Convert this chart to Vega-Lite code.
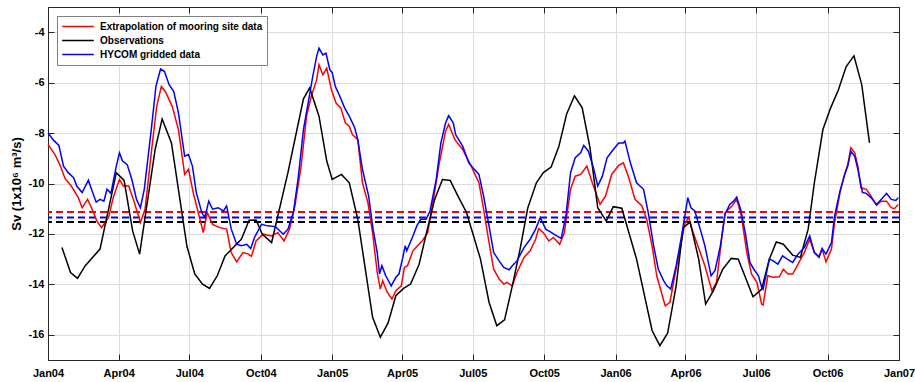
{
  "$schema": "https://vega.github.io/schema/vega-lite/v6.json",
  "width": 851,
  "height": 353,
  "autosize": {"type": "none"},
  "padding": {"left": 48, "top": 7, "right": 16, "bottom": 22},
  "background": "white",
  "config": {
    "font": "Liberation Sans",
    "view": {"stroke": null},
    "axis": {
      "labelFontWeight": "bold",
      "labelFontSize": 11,
      "labelColor": "#000000",
      "domainColor": "#262626",
      "domainWidth": 1,
      "tickColor": "#262626",
      "gridColor": "#dcdcdc",
      "titleFontWeight": "bold",
      "titleFontSize": 13,
      "titleColor": "#000000"
    }
  },
  "datasets": {
    "means": [
      {"c": "#ff0000", "v": -11.13},
      {"c": "#0000ff", "v": -11.35},
      {"c": "#000000", "v": -11.53}
    ]
  },
  "data": {
    "format": {"parse": {"date": "utc:'%Y-%m-%d'"}},
    "values": [
      {"series": "Extrapolation of mooring site data", "date": "2004-01-01", "value": -8.45},
      {"series": "Extrapolation of mooring site data", "date": "2004-01-10", "value": -8.85},
      {"series": "Extrapolation of mooring site data", "date": "2004-01-17", "value": -9.31},
      {"series": "Extrapolation of mooring site data", "date": "2004-01-23", "value": -9.81},
      {"series": "Extrapolation of mooring site data", "date": "2004-01-31", "value": -10.1},
      {"series": "Extrapolation of mooring site data", "date": "2004-02-09", "value": -10.56},
      {"series": "Extrapolation of mooring site data", "date": "2004-02-14", "value": -10.96},
      {"series": "Extrapolation of mooring site data", "date": "2004-02-21", "value": -10.63},
      {"series": "Extrapolation of mooring site data", "date": "2004-02-26", "value": -10.96},
      {"series": "Extrapolation of mooring site data", "date": "2004-03-04", "value": -11.49},
      {"series": "Extrapolation of mooring site data", "date": "2004-03-10", "value": -11.75},
      {"series": "Extrapolation of mooring site data", "date": "2004-03-19", "value": -11.35},
      {"series": "Extrapolation of mooring site data", "date": "2004-03-25", "value": -10.56},
      {"series": "Extrapolation of mooring site data", "date": "2004-04-02", "value": -9.84},
      {"series": "Extrapolation of mooring site data", "date": "2004-04-07", "value": -10.1},
      {"series": "Extrapolation of mooring site data", "date": "2004-04-14", "value": -10.1},
      {"series": "Extrapolation of mooring site data", "date": "2004-04-20", "value": -10.63},
      {"series": "Extrapolation of mooring site data", "date": "2004-04-29", "value": -11.55},
      {"series": "Extrapolation of mooring site data", "date": "2004-05-05", "value": -11.02},
      {"series": "Extrapolation of mooring site data", "date": "2004-05-14", "value": -8.52},
      {"series": "Extrapolation of mooring site data", "date": "2004-05-20", "value": -6.94},
      {"series": "Extrapolation of mooring site data", "date": "2004-05-26", "value": -6.15},
      {"series": "Extrapolation of mooring site data", "date": "2004-05-31", "value": -6.35},
      {"series": "Extrapolation of mooring site data", "date": "2004-06-09", "value": -6.94},
      {"series": "Extrapolation of mooring site data", "date": "2004-06-17", "value": -7.86},
      {"series": "Extrapolation of mooring site data", "date": "2004-06-25", "value": -9.64},
      {"series": "Extrapolation of mooring site data", "date": "2004-06-30", "value": -9.44},
      {"series": "Extrapolation of mooring site data", "date": "2004-07-06", "value": -10.36},
      {"series": "Extrapolation of mooring site data", "date": "2004-07-12", "value": -11.09},
      {"series": "Extrapolation of mooring site data", "date": "2004-07-19", "value": -11.95},
      {"series": "Extrapolation of mooring site data", "date": "2004-07-24", "value": -11.15},
      {"series": "Extrapolation of mooring site data", "date": "2004-07-31", "value": -11.62},
      {"series": "Extrapolation of mooring site data", "date": "2004-08-09", "value": -11.75},
      {"series": "Extrapolation of mooring site data", "date": "2004-08-18", "value": -11.81},
      {"series": "Extrapolation of mooring site data", "date": "2004-08-24", "value": -12.74},
      {"series": "Extrapolation of mooring site data", "date": "2004-08-31", "value": -13.11},
      {"series": "Extrapolation of mooring site data", "date": "2004-09-08", "value": -12.74},
      {"series": "Extrapolation of mooring site data", "date": "2004-09-15", "value": -12.8},
      {"series": "Extrapolation of mooring site data", "date": "2004-09-19", "value": -12.89},
      {"series": "Extrapolation of mooring site data", "date": "2004-09-25", "value": -12.28},
      {"series": "Extrapolation of mooring site data", "date": "2004-10-04", "value": -12.01},
      {"series": "Extrapolation of mooring site data", "date": "2004-10-15", "value": -12.08},
      {"series": "Extrapolation of mooring site data", "date": "2004-10-23", "value": -11.95},
      {"series": "Extrapolation of mooring site data", "date": "2004-10-31", "value": -12.28},
      {"series": "Extrapolation of mooring site data", "date": "2004-11-07", "value": -11.81},
      {"series": "Extrapolation of mooring site data", "date": "2004-11-14", "value": -10.89},
      {"series": "Extrapolation of mooring site data", "date": "2004-11-22", "value": -9.31},
      {"series": "Extrapolation of mooring site data", "date": "2004-11-29", "value": -7.33},
      {"series": "Extrapolation of mooring site data", "date": "2004-12-05", "value": -6.55},
      {"series": "Extrapolation of mooring site data", "date": "2004-12-12", "value": -5.89},
      {"series": "Extrapolation of mooring site data", "date": "2004-12-15", "value": -5.29},
      {"series": "Extrapolation of mooring site data", "date": "2004-12-20", "value": -5.69},
      {"series": "Extrapolation of mooring site data", "date": "2004-12-25", "value": -5.42},
      {"series": "Extrapolation of mooring site data", "date": "2004-12-31", "value": -6.28},
      {"series": "Extrapolation of mooring site data", "date": "2005-01-06", "value": -6.81},
      {"series": "Extrapolation of mooring site data", "date": "2005-01-12", "value": -7.0},
      {"series": "Extrapolation of mooring site data", "date": "2005-01-18", "value": -7.6},
      {"series": "Extrapolation of mooring site data", "date": "2005-01-23", "value": -7.73},
      {"series": "Extrapolation of mooring site data", "date": "2005-01-27", "value": -8.06},
      {"series": "Extrapolation of mooring site data", "date": "2005-02-03", "value": -8.26},
      {"series": "Extrapolation of mooring site data", "date": "2005-02-09", "value": -9.97},
      {"series": "Extrapolation of mooring site data", "date": "2005-02-16", "value": -10.76},
      {"series": "Extrapolation of mooring site data", "date": "2005-02-22", "value": -11.95},
      {"series": "Extrapolation of mooring site data", "date": "2005-02-28", "value": -13.53},
      {"series": "Extrapolation of mooring site data", "date": "2005-03-04", "value": -14.19},
      {"series": "Extrapolation of mooring site data", "date": "2005-03-07", "value": -13.86},
      {"series": "Extrapolation of mooring site data", "date": "2005-03-13", "value": -14.32},
      {"series": "Extrapolation of mooring site data", "date": "2005-03-19", "value": -14.58},
      {"series": "Extrapolation of mooring site data", "date": "2005-03-24", "value": -14.25},
      {"series": "Extrapolation of mooring site data", "date": "2005-03-31", "value": -14.06},
      {"series": "Extrapolation of mooring site data", "date": "2005-04-04", "value": -13.33},
      {"series": "Extrapolation of mooring site data", "date": "2005-04-08", "value": -13.26},
      {"series": "Extrapolation of mooring site data", "date": "2005-04-15", "value": -12.67},
      {"series": "Extrapolation of mooring site data", "date": "2005-04-21", "value": -12.47},
      {"series": "Extrapolation of mooring site data", "date": "2005-04-27", "value": -12.28},
      {"series": "Extrapolation of mooring site data", "date": "2005-05-04", "value": -11.95},
      {"series": "Extrapolation of mooring site data", "date": "2005-05-10", "value": -10.89},
      {"series": "Extrapolation of mooring site data", "date": "2005-05-19", "value": -9.18},
      {"series": "Extrapolation of mooring site data", "date": "2005-05-27", "value": -7.93},
      {"series": "Extrapolation of mooring site data", "date": "2005-05-31", "value": -7.66},
      {"series": "Extrapolation of mooring site data", "date": "2005-06-08", "value": -8.26},
      {"series": "Extrapolation of mooring site data", "date": "2005-06-18", "value": -8.65},
      {"series": "Extrapolation of mooring site data", "date": "2005-06-29", "value": -9.31},
      {"series": "Extrapolation of mooring site data", "date": "2005-07-05", "value": -9.71},
      {"series": "Extrapolation of mooring site data", "date": "2005-07-09", "value": -9.97},
      {"series": "Extrapolation of mooring site data", "date": "2005-07-15", "value": -11.02},
      {"series": "Extrapolation of mooring site data", "date": "2005-07-22", "value": -12.34},
      {"series": "Extrapolation of mooring site data", "date": "2005-07-28", "value": -13.4},
      {"series": "Extrapolation of mooring site data", "date": "2005-08-04", "value": -13.79},
      {"series": "Extrapolation of mooring site data", "date": "2005-08-10", "value": -13.99},
      {"series": "Extrapolation of mooring site data", "date": "2005-08-14", "value": -13.92},
      {"series": "Extrapolation of mooring site data", "date": "2005-08-21", "value": -14.06},
      {"series": "Extrapolation of mooring site data", "date": "2005-08-27", "value": -13.53},
      {"series": "Extrapolation of mooring site data", "date": "2005-09-05", "value": -12.93},
      {"series": "Extrapolation of mooring site data", "date": "2005-09-13", "value": -12.67},
      {"series": "Extrapolation of mooring site data", "date": "2005-09-20", "value": -12.21},
      {"series": "Extrapolation of mooring site data", "date": "2005-09-24", "value": -11.79},
      {"series": "Extrapolation of mooring site data", "date": "2005-09-30", "value": -11.95},
      {"series": "Extrapolation of mooring site data", "date": "2005-10-07", "value": -12.28},
      {"series": "Extrapolation of mooring site data", "date": "2005-10-13", "value": -12.14},
      {"series": "Extrapolation of mooring site data", "date": "2005-10-21", "value": -12.41},
      {"series": "Extrapolation of mooring site data", "date": "2005-10-27", "value": -11.95},
      {"series": "Extrapolation of mooring site data", "date": "2005-11-04", "value": -10.23},
      {"series": "Extrapolation of mooring site data", "date": "2005-11-10", "value": -9.71},
      {"series": "Extrapolation of mooring site data", "date": "2005-11-17", "value": -9.64},
      {"series": "Extrapolation of mooring site data", "date": "2005-11-25", "value": -9.31},
      {"series": "Extrapolation of mooring site data", "date": "2005-12-02", "value": -9.97},
      {"series": "Extrapolation of mooring site data", "date": "2005-12-12", "value": -10.83},
      {"series": "Extrapolation of mooring site data", "date": "2005-12-19", "value": -10.5},
      {"series": "Extrapolation of mooring site data", "date": "2005-12-27", "value": -9.64},
      {"series": "Extrapolation of mooring site data", "date": "2006-01-05", "value": -9.28},
      {"series": "Extrapolation of mooring site data", "date": "2006-01-11", "value": -9.18},
      {"series": "Extrapolation of mooring site data", "date": "2006-01-18", "value": -9.77},
      {"series": "Extrapolation of mooring site data", "date": "2006-01-26", "value": -10.63},
      {"series": "Extrapolation of mooring site data", "date": "2006-02-04", "value": -10.89},
      {"series": "Extrapolation of mooring site data", "date": "2006-02-10", "value": -11.42},
      {"series": "Extrapolation of mooring site data", "date": "2006-02-17", "value": -12.47},
      {"series": "Extrapolation of mooring site data", "date": "2006-02-23", "value": -13.66},
      {"series": "Extrapolation of mooring site data", "date": "2006-03-04", "value": -14.65},
      {"series": "Extrapolation of mooring site data", "date": "2006-03-06", "value": -14.85},
      {"series": "Extrapolation of mooring site data", "date": "2006-03-12", "value": -14.71},
      {"series": "Extrapolation of mooring site data", "date": "2006-03-19", "value": -13.53},
      {"series": "Extrapolation of mooring site data", "date": "2006-03-25", "value": -12.6},
      {"series": "Extrapolation of mooring site data", "date": "2006-03-31", "value": -11.62},
      {"series": "Extrapolation of mooring site data", "date": "2006-04-05", "value": -11.35},
      {"series": "Extrapolation of mooring site data", "date": "2006-04-11", "value": -11.95},
      {"series": "Extrapolation of mooring site data", "date": "2006-04-20", "value": -12.74},
      {"series": "Extrapolation of mooring site data", "date": "2006-04-26", "value": -13.26},
      {"series": "Extrapolation of mooring site data", "date": "2006-05-05", "value": -14.25},
      {"series": "Extrapolation of mooring site data", "date": "2006-05-11", "value": -13.92},
      {"series": "Extrapolation of mooring site data", "date": "2006-05-18", "value": -12.08},
      {"series": "Extrapolation of mooring site data", "date": "2006-05-22", "value": -11.15},
      {"series": "Extrapolation of mooring site data", "date": "2006-05-31", "value": -10.89},
      {"series": "Extrapolation of mooring site data", "date": "2006-06-06", "value": -10.63},
      {"series": "Extrapolation of mooring site data", "date": "2006-06-12", "value": -11.29},
      {"series": "Extrapolation of mooring site data", "date": "2006-06-19", "value": -12.74},
      {"series": "Extrapolation of mooring site data", "date": "2006-06-25", "value": -13.59},
      {"series": "Extrapolation of mooring site data", "date": "2006-07-02", "value": -13.92},
      {"series": "Extrapolation of mooring site data", "date": "2006-07-08", "value": -14.78},
      {"series": "Extrapolation of mooring site data", "date": "2006-07-10", "value": -14.82},
      {"series": "Extrapolation of mooring site data", "date": "2006-07-16", "value": -13.66},
      {"series": "Extrapolation of mooring site data", "date": "2006-07-23", "value": -13.72},
      {"series": "Extrapolation of mooring site data", "date": "2006-07-31", "value": -13.7},
      {"series": "Extrapolation of mooring site data", "date": "2006-08-05", "value": -13.4},
      {"series": "Extrapolation of mooring site data", "date": "2006-08-11", "value": -13.59},
      {"series": "Extrapolation of mooring site data", "date": "2006-08-17", "value": -13.59},
      {"series": "Extrapolation of mooring site data", "date": "2006-08-24", "value": -13.2},
      {"series": "Extrapolation of mooring site data", "date": "2006-09-01", "value": -12.74},
      {"series": "Extrapolation of mooring site data", "date": "2006-09-08", "value": -12.21},
      {"series": "Extrapolation of mooring site data", "date": "2006-09-14", "value": -12.74},
      {"series": "Extrapolation of mooring site data", "date": "2006-09-20", "value": -12.89},
      {"series": "Extrapolation of mooring site data", "date": "2006-09-24", "value": -12.6},
      {"series": "Extrapolation of mooring site data", "date": "2006-09-29", "value": -13.11},
      {"series": "Extrapolation of mooring site data", "date": "2006-10-06", "value": -12.6},
      {"series": "Extrapolation of mooring site data", "date": "2006-10-10", "value": -11.55},
      {"series": "Extrapolation of mooring site data", "date": "2006-10-17", "value": -10.36},
      {"series": "Extrapolation of mooring site data", "date": "2006-10-23", "value": -9.64},
      {"series": "Extrapolation of mooring site data", "date": "2006-10-27", "value": -9.25},
      {"series": "Extrapolation of mooring site data", "date": "2006-10-31", "value": -8.58},
      {"series": "Extrapolation of mooring site data", "date": "2006-11-05", "value": -8.78},
      {"series": "Extrapolation of mooring site data", "date": "2006-11-09", "value": -9.31},
      {"series": "Extrapolation of mooring site data", "date": "2006-11-13", "value": -10.17},
      {"series": "Extrapolation of mooring site data", "date": "2006-11-20", "value": -10.23},
      {"series": "Extrapolation of mooring site data", "date": "2006-11-26", "value": -10.5},
      {"series": "Extrapolation of mooring site data", "date": "2006-12-03", "value": -10.87},
      {"series": "Extrapolation of mooring site data", "date": "2006-12-09", "value": -10.7},
      {"series": "Extrapolation of mooring site data", "date": "2006-12-16", "value": -10.7},
      {"series": "Extrapolation of mooring site data", "date": "2006-12-22", "value": -10.96},
      {"series": "Extrapolation of mooring site data", "date": "2006-12-26", "value": -11.0},
      {"series": "Extrapolation of mooring site data", "date": "2006-12-31", "value": -10.83},

      {"series": "Observations", "date": "2004-01-19", "value": -12.54},
      {"series": "Observations", "date": "2004-01-30", "value": -13.53},
      {"series": "Observations", "date": "2004-02-08", "value": -13.76},
      {"series": "Observations", "date": "2004-02-18", "value": -13.26},
      {"series": "Observations", "date": "2004-03-08", "value": -12.6},
      {"series": "Observations", "date": "2004-03-29", "value": -9.57},
      {"series": "Observations", "date": "2004-04-08", "value": -9.88},
      {"series": "Observations", "date": "2004-04-19", "value": -11.88},
      {"series": "Observations", "date": "2004-04-28", "value": -12.8},
      {"series": "Observations", "date": "2004-05-18", "value": -8.65},
      {"series": "Observations", "date": "2004-05-27", "value": -7.44},
      {"series": "Observations", "date": "2004-06-08", "value": -8.39},
      {"series": "Observations", "date": "2004-06-28", "value": -12.5},
      {"series": "Observations", "date": "2004-07-08", "value": -13.59},
      {"series": "Observations", "date": "2004-07-18", "value": -13.99},
      {"series": "Observations", "date": "2004-07-27", "value": -14.16},
      {"series": "Observations", "date": "2004-08-06", "value": -13.66},
      {"series": "Observations", "date": "2004-08-16", "value": -12.87},
      {"series": "Observations", "date": "2004-09-06", "value": -12.21},
      {"series": "Observations", "date": "2004-09-16", "value": -11.46},
      {"series": "Observations", "date": "2004-09-25", "value": -11.45},
      {"series": "Observations", "date": "2004-10-03", "value": -12.01},
      {"series": "Observations", "date": "2004-10-15", "value": -12.34},
      {"series": "Observations", "date": "2004-11-05", "value": -9.57},
      {"series": "Observations", "date": "2004-11-25", "value": -6.64},
      {"series": "Observations", "date": "2004-12-03", "value": -6.21},
      {"series": "Observations", "date": "2004-12-15", "value": -7.33},
      {"series": "Observations", "date": "2004-12-25", "value": -9.11},
      {"series": "Observations", "date": "2005-01-01", "value": -9.84},
      {"series": "Observations", "date": "2005-01-13", "value": -9.64},
      {"series": "Observations", "date": "2005-01-23", "value": -9.97},
      {"series": "Observations", "date": "2005-02-03", "value": -11.42},
      {"series": "Observations", "date": "2005-02-22", "value": -15.3},
      {"series": "Observations", "date": "2005-03-04", "value": -16.1},
      {"series": "Observations", "date": "2005-03-14", "value": -15.53},
      {"series": "Observations", "date": "2005-03-24", "value": -14.45},
      {"series": "Observations", "date": "2005-04-03", "value": -14.16},
      {"series": "Observations", "date": "2005-04-12", "value": -13.99},
      {"series": "Observations", "date": "2005-04-23", "value": -13.2},
      {"series": "Observations", "date": "2005-05-04", "value": -11.75},
      {"series": "Observations", "date": "2005-05-13", "value": -10.63},
      {"series": "Observations", "date": "2005-05-23", "value": -9.84},
      {"series": "Observations", "date": "2005-06-02", "value": -9.88},
      {"series": "Observations", "date": "2005-06-12", "value": -10.5},
      {"series": "Observations", "date": "2005-06-23", "value": -11.15},
      {"series": "Observations", "date": "2005-07-11", "value": -13.0},
      {"series": "Observations", "date": "2005-07-22", "value": -14.71},
      {"series": "Observations", "date": "2005-08-01", "value": -15.64},
      {"series": "Observations", "date": "2005-08-11", "value": -15.41},
      {"series": "Observations", "date": "2005-08-21", "value": -14.06},
      {"series": "Observations", "date": "2005-08-31", "value": -12.6},
      {"series": "Observations", "date": "2005-09-10", "value": -10.96},
      {"series": "Observations", "date": "2005-09-21", "value": -9.97},
      {"series": "Observations", "date": "2005-09-30", "value": -9.57},
      {"series": "Observations", "date": "2005-10-10", "value": -9.35},
      {"series": "Observations", "date": "2005-10-20", "value": -8.52},
      {"series": "Observations", "date": "2005-10-30", "value": -7.24},
      {"series": "Observations", "date": "2005-11-09", "value": -6.52},
      {"series": "Observations", "date": "2005-11-19", "value": -7.0},
      {"series": "Observations", "date": "2005-11-29", "value": -8.58},
      {"series": "Observations", "date": "2005-12-09", "value": -10.96},
      {"series": "Observations", "date": "2005-12-20", "value": -11.49},
      {"series": "Observations", "date": "2005-12-29", "value": -10.92},
      {"series": "Observations", "date": "2006-01-09", "value": -10.98},
      {"series": "Observations", "date": "2006-01-28", "value": -13.0},
      {"series": "Observations", "date": "2006-02-17", "value": -15.83},
      {"series": "Observations", "date": "2006-02-27", "value": -16.43},
      {"series": "Observations", "date": "2006-03-09", "value": -15.94},
      {"series": "Observations", "date": "2006-03-20", "value": -14.06},
      {"series": "Observations", "date": "2006-03-29", "value": -11.75},
      {"series": "Observations", "date": "2006-04-07", "value": -11.53},
      {"series": "Observations", "date": "2006-04-18", "value": -13.0},
      {"series": "Observations", "date": "2006-04-27", "value": -14.78},
      {"series": "Observations", "date": "2006-05-07", "value": -14.25},
      {"series": "Observations", "date": "2006-05-19", "value": -13.4},
      {"series": "Observations", "date": "2006-05-30", "value": -12.97},
      {"series": "Observations", "date": "2006-06-08", "value": -13.0},
      {"series": "Observations", "date": "2006-06-27", "value": -14.49},
      {"series": "Observations", "date": "2006-07-08", "value": -14.2},
      {"series": "Observations", "date": "2006-07-18", "value": -13.0},
      {"series": "Observations", "date": "2006-07-27", "value": -12.32},
      {"series": "Observations", "date": "2006-08-05", "value": -12.41},
      {"series": "Observations", "date": "2006-08-17", "value": -12.84},
      {"series": "Observations", "date": "2006-08-27", "value": -12.93},
      {"series": "Observations", "date": "2006-09-06", "value": -11.81},
      {"series": "Observations", "date": "2006-09-14", "value": -9.97},
      {"series": "Observations", "date": "2006-09-25", "value": -7.86},
      {"series": "Observations", "date": "2006-10-05", "value": -7.0},
      {"series": "Observations", "date": "2006-10-15", "value": -6.28},
      {"series": "Observations", "date": "2006-10-25", "value": -5.36},
      {"series": "Observations", "date": "2006-11-04", "value": -4.94},
      {"series": "Observations", "date": "2006-11-14", "value": -6.08},
      {"series": "Observations", "date": "2006-11-24", "value": -8.39},

      {"series": "HYCOM gridded data", "date": "2004-01-01", "value": -7.99},
      {"series": "HYCOM gridded data", "date": "2004-01-08", "value": -8.28},
      {"series": "HYCOM gridded data", "date": "2004-01-15", "value": -8.49},
      {"series": "HYCOM gridded data", "date": "2004-01-21", "value": -9.31},
      {"series": "HYCOM gridded data", "date": "2004-01-27", "value": -9.57},
      {"series": "HYCOM gridded data", "date": "2004-02-03", "value": -9.77},
      {"series": "HYCOM gridded data", "date": "2004-02-07", "value": -10.1},
      {"series": "HYCOM gridded data", "date": "2004-02-14", "value": -10.36},
      {"series": "HYCOM gridded data", "date": "2004-02-22", "value": -9.87},
      {"series": "HYCOM gridded data", "date": "2004-02-26", "value": -10.23},
      {"series": "HYCOM gridded data", "date": "2004-03-03", "value": -10.74},
      {"series": "HYCOM gridded data", "date": "2004-03-08", "value": -10.63},
      {"series": "HYCOM gridded data", "date": "2004-03-13", "value": -10.7},
      {"series": "HYCOM gridded data", "date": "2004-03-17", "value": -10.23},
      {"series": "HYCOM gridded data", "date": "2004-03-22", "value": -10.39},
      {"series": "HYCOM gridded data", "date": "2004-03-29", "value": -9.31},
      {"series": "HYCOM gridded data", "date": "2004-04-02", "value": -8.78},
      {"series": "HYCOM gridded data", "date": "2004-04-06", "value": -9.11},
      {"series": "HYCOM gridded data", "date": "2004-04-12", "value": -9.25},
      {"series": "HYCOM gridded data", "date": "2004-04-18", "value": -9.84},
      {"series": "HYCOM gridded data", "date": "2004-04-24", "value": -10.63},
      {"series": "HYCOM gridded data", "date": "2004-04-29", "value": -10.96},
      {"series": "HYCOM gridded data", "date": "2004-05-04", "value": -10.23},
      {"series": "HYCOM gridded data", "date": "2004-05-13", "value": -7.86},
      {"series": "HYCOM gridded data", "date": "2004-05-19", "value": -6.15},
      {"series": "HYCOM gridded data", "date": "2004-05-25", "value": -5.46},
      {"series": "HYCOM gridded data", "date": "2004-05-30", "value": -5.56},
      {"series": "HYCOM gridded data", "date": "2004-06-05", "value": -6.08},
      {"series": "HYCOM gridded data", "date": "2004-06-11", "value": -6.35},
      {"series": "HYCOM gridded data", "date": "2004-06-17", "value": -7.2},
      {"series": "HYCOM gridded data", "date": "2004-06-25", "value": -8.92},
      {"series": "HYCOM gridded data", "date": "2004-06-30", "value": -8.85},
      {"series": "HYCOM gridded data", "date": "2004-07-05", "value": -9.31},
      {"series": "HYCOM gridded data", "date": "2004-07-10", "value": -10.36},
      {"series": "HYCOM gridded data", "date": "2004-07-17", "value": -11.15},
      {"series": "HYCOM gridded data", "date": "2004-07-21", "value": -11.35},
      {"series": "HYCOM gridded data", "date": "2004-07-26", "value": -10.7},
      {"series": "HYCOM gridded data", "date": "2004-07-31", "value": -11.02},
      {"series": "HYCOM gridded data", "date": "2004-08-07", "value": -10.96},
      {"series": "HYCOM gridded data", "date": "2004-08-14", "value": -11.09},
      {"series": "HYCOM gridded data", "date": "2004-08-18", "value": -10.89},
      {"series": "HYCOM gridded data", "date": "2004-08-24", "value": -11.81},
      {"series": "HYCOM gridded data", "date": "2004-08-31", "value": -12.41},
      {"series": "HYCOM gridded data", "date": "2004-09-06", "value": -12.47},
      {"series": "HYCOM gridded data", "date": "2004-09-13", "value": -12.41},
      {"series": "HYCOM gridded data", "date": "2004-09-18", "value": -12.58},
      {"series": "HYCOM gridded data", "date": "2004-09-23", "value": -12.14},
      {"series": "HYCOM gridded data", "date": "2004-10-02", "value": -11.62},
      {"series": "HYCOM gridded data", "date": "2004-10-10", "value": -11.68},
      {"series": "HYCOM gridded data", "date": "2004-10-20", "value": -11.71},
      {"series": "HYCOM gridded data", "date": "2004-10-30", "value": -12.01},
      {"series": "HYCOM gridded data", "date": "2004-11-05", "value": -11.81},
      {"series": "HYCOM gridded data", "date": "2004-11-12", "value": -11.15},
      {"series": "HYCOM gridded data", "date": "2004-11-18", "value": -9.84},
      {"series": "HYCOM gridded data", "date": "2004-11-25", "value": -7.86},
      {"series": "HYCOM gridded data", "date": "2004-12-01", "value": -6.81},
      {"series": "HYCOM gridded data", "date": "2004-12-07", "value": -5.75},
      {"series": "HYCOM gridded data", "date": "2004-12-12", "value": -4.96},
      {"series": "HYCOM gridded data", "date": "2004-12-15", "value": -4.63},
      {"series": "HYCOM gridded data", "date": "2004-12-20", "value": -4.9},
      {"series": "HYCOM gridded data", "date": "2004-12-24", "value": -4.83},
      {"series": "HYCOM gridded data", "date": "2004-12-29", "value": -5.49},
      {"series": "HYCOM gridded data", "date": "2005-01-01", "value": -5.6},
      {"series": "HYCOM gridded data", "date": "2005-01-05", "value": -6.15},
      {"series": "HYCOM gridded data", "date": "2005-01-10", "value": -6.48},
      {"series": "HYCOM gridded data", "date": "2005-01-17", "value": -7.0},
      {"series": "HYCOM gridded data", "date": "2005-01-23", "value": -7.33},
      {"series": "HYCOM gridded data", "date": "2005-01-30", "value": -7.79},
      {"series": "HYCOM gridded data", "date": "2005-02-03", "value": -8.26},
      {"series": "HYCOM gridded data", "date": "2005-02-09", "value": -9.44},
      {"series": "HYCOM gridded data", "date": "2005-02-17", "value": -10.5},
      {"series": "HYCOM gridded data", "date": "2005-02-22", "value": -11.68},
      {"series": "HYCOM gridded data", "date": "2005-02-28", "value": -12.74},
      {"series": "HYCOM gridded data", "date": "2005-03-03", "value": -13.59},
      {"series": "HYCOM gridded data", "date": "2005-03-06", "value": -13.26},
      {"series": "HYCOM gridded data", "date": "2005-03-11", "value": -13.66},
      {"series": "HYCOM gridded data", "date": "2005-03-18", "value": -14.06},
      {"series": "HYCOM gridded data", "date": "2005-03-24", "value": -13.72},
      {"series": "HYCOM gridded data", "date": "2005-03-28", "value": -13.59},
      {"series": "HYCOM gridded data", "date": "2005-04-02", "value": -12.93},
      {"series": "HYCOM gridded data", "date": "2005-04-05", "value": -12.47},
      {"series": "HYCOM gridded data", "date": "2005-04-07", "value": -12.67},
      {"series": "HYCOM gridded data", "date": "2005-04-15", "value": -12.08},
      {"series": "HYCOM gridded data", "date": "2005-04-20", "value": -11.68},
      {"series": "HYCOM gridded data", "date": "2005-04-25", "value": -11.42},
      {"series": "HYCOM gridded data", "date": "2005-05-02", "value": -11.42},
      {"series": "HYCOM gridded data", "date": "2005-05-07", "value": -11.09},
      {"series": "HYCOM gridded data", "date": "2005-05-15", "value": -9.84},
      {"series": "HYCOM gridded data", "date": "2005-05-21", "value": -8.39},
      {"series": "HYCOM gridded data", "date": "2005-05-27", "value": -7.6},
      {"series": "HYCOM gridded data", "date": "2005-05-31", "value": -7.31},
      {"series": "HYCOM gridded data", "date": "2005-06-06", "value": -7.6},
      {"series": "HYCOM gridded data", "date": "2005-06-09", "value": -8.06},
      {"series": "HYCOM gridded data", "date": "2005-06-18", "value": -8.52},
      {"series": "HYCOM gridded data", "date": "2005-06-26", "value": -9.18},
      {"series": "HYCOM gridded data", "date": "2005-07-03", "value": -9.44},
      {"series": "HYCOM gridded data", "date": "2005-07-09", "value": -9.64},
      {"series": "HYCOM gridded data", "date": "2005-07-15", "value": -10.5},
      {"series": "HYCOM gridded data", "date": "2005-07-22", "value": -11.68},
      {"series": "HYCOM gridded data", "date": "2005-07-28", "value": -12.74},
      {"series": "HYCOM gridded data", "date": "2005-08-04", "value": -13.07},
      {"series": "HYCOM gridded data", "date": "2005-08-10", "value": -13.33},
      {"series": "HYCOM gridded data", "date": "2005-08-17", "value": -13.42},
      {"series": "HYCOM gridded data", "date": "2005-08-21", "value": -13.26},
      {"series": "HYCOM gridded data", "date": "2005-08-27", "value": -13.07},
      {"series": "HYCOM gridded data", "date": "2005-09-05", "value": -12.54},
      {"series": "HYCOM gridded data", "date": "2005-09-13", "value": -12.21},
      {"series": "HYCOM gridded data", "date": "2005-09-20", "value": -11.81},
      {"series": "HYCOM gridded data", "date": "2005-09-26", "value": -11.35},
      {"series": "HYCOM gridded data", "date": "2005-10-03", "value": -11.81},
      {"series": "HYCOM gridded data", "date": "2005-10-09", "value": -11.92},
      {"series": "HYCOM gridded data", "date": "2005-10-17", "value": -12.08},
      {"series": "HYCOM gridded data", "date": "2005-10-23", "value": -12.18},
      {"series": "HYCOM gridded data", "date": "2005-10-29", "value": -11.29},
      {"series": "HYCOM gridded data", "date": "2005-11-04", "value": -9.57},
      {"series": "HYCOM gridded data", "date": "2005-11-10", "value": -8.98},
      {"series": "HYCOM gridded data", "date": "2005-11-17", "value": -8.78},
      {"series": "HYCOM gridded data", "date": "2005-11-21", "value": -8.49},
      {"series": "HYCOM gridded data", "date": "2005-11-27", "value": -8.72},
      {"series": "HYCOM gridded data", "date": "2005-12-04", "value": -9.44},
      {"series": "HYCOM gridded data", "date": "2005-12-09", "value": -10.1},
      {"series": "HYCOM gridded data", "date": "2005-12-15", "value": -9.71},
      {"series": "HYCOM gridded data", "date": "2005-12-21", "value": -8.98},
      {"series": "HYCOM gridded data", "date": "2005-12-29", "value": -8.65},
      {"series": "HYCOM gridded data", "date": "2006-01-05", "value": -8.39},
      {"series": "HYCOM gridded data", "date": "2006-01-11", "value": -8.39},
      {"series": "HYCOM gridded data", "date": "2006-01-13", "value": -8.32},
      {"series": "HYCOM gridded data", "date": "2006-01-20", "value": -9.18},
      {"series": "HYCOM gridded data", "date": "2006-01-28", "value": -9.97},
      {"series": "HYCOM gridded data", "date": "2006-02-06", "value": -10.23},
      {"series": "HYCOM gridded data", "date": "2006-02-12", "value": -11.15},
      {"series": "HYCOM gridded data", "date": "2006-02-19", "value": -12.47},
      {"series": "HYCOM gridded data", "date": "2006-02-25", "value": -13.4},
      {"series": "HYCOM gridded data", "date": "2006-03-04", "value": -13.86},
      {"series": "HYCOM gridded data", "date": "2006-03-08", "value": -14.06},
      {"series": "HYCOM gridded data", "date": "2006-03-13", "value": -14.19},
      {"series": "HYCOM gridded data", "date": "2006-03-20", "value": -13.26},
      {"series": "HYCOM gridded data", "date": "2006-03-27", "value": -12.08},
      {"series": "HYCOM gridded data", "date": "2006-04-04", "value": -10.56},
      {"series": "HYCOM gridded data", "date": "2006-04-08", "value": -10.96},
      {"series": "HYCOM gridded data", "date": "2006-04-13", "value": -11.09},
      {"series": "HYCOM gridded data", "date": "2006-04-20", "value": -11.81},
      {"series": "HYCOM gridded data", "date": "2006-04-26", "value": -12.47},
      {"series": "HYCOM gridded data", "date": "2006-05-04", "value": -13.66},
      {"series": "HYCOM gridded data", "date": "2006-05-09", "value": -13.46},
      {"series": "HYCOM gridded data", "date": "2006-05-16", "value": -12.47},
      {"series": "HYCOM gridded data", "date": "2006-05-22", "value": -11.22},
      {"series": "HYCOM gridded data", "date": "2006-05-28", "value": -10.83},
      {"series": "HYCOM gridded data", "date": "2006-06-02", "value": -10.7},
      {"series": "HYCOM gridded data", "date": "2006-06-06", "value": -10.54},
      {"series": "HYCOM gridded data", "date": "2006-06-11", "value": -11.02},
      {"series": "HYCOM gridded data", "date": "2006-06-17", "value": -11.95},
      {"series": "HYCOM gridded data", "date": "2006-06-23", "value": -13.13},
      {"series": "HYCOM gridded data", "date": "2006-06-28", "value": -13.4},
      {"series": "HYCOM gridded data", "date": "2006-07-04", "value": -13.66},
      {"series": "HYCOM gridded data", "date": "2006-07-08", "value": -14.1},
      {"series": "HYCOM gridded data", "date": "2006-07-10", "value": -14.19},
      {"series": "HYCOM gridded data", "date": "2006-07-18", "value": -13.0},
      {"series": "HYCOM gridded data", "date": "2006-07-23", "value": -13.07},
      {"series": "HYCOM gridded data", "date": "2006-07-29", "value": -13.2},
      {"series": "HYCOM gridded data", "date": "2006-08-04", "value": -12.87},
      {"series": "HYCOM gridded data", "date": "2006-08-11", "value": -13.02},
      {"series": "HYCOM gridded data", "date": "2006-08-17", "value": -13.13},
      {"series": "HYCOM gridded data", "date": "2006-08-24", "value": -12.8},
      {"series": "HYCOM gridded data", "date": "2006-09-01", "value": -12.54},
      {"series": "HYCOM gridded data", "date": "2006-09-08", "value": -12.08},
      {"series": "HYCOM gridded data", "date": "2006-09-14", "value": -12.74},
      {"series": "HYCOM gridded data", "date": "2006-09-20", "value": -12.93},
      {"series": "HYCOM gridded data", "date": "2006-09-24", "value": -12.58},
      {"series": "HYCOM gridded data", "date": "2006-09-29", "value": -12.8},
      {"series": "HYCOM gridded data", "date": "2006-10-06", "value": -12.34},
      {"series": "HYCOM gridded data", "date": "2006-10-10", "value": -11.29},
      {"series": "HYCOM gridded data", "date": "2006-10-17", "value": -10.3},
      {"series": "HYCOM gridded data", "date": "2006-10-23", "value": -9.64},
      {"series": "HYCOM gridded data", "date": "2006-10-27", "value": -9.31},
      {"series": "HYCOM gridded data", "date": "2006-10-31", "value": -8.72},
      {"series": "HYCOM gridded data", "date": "2006-11-05", "value": -8.92},
      {"series": "HYCOM gridded data", "date": "2006-11-09", "value": -9.44},
      {"series": "HYCOM gridded data", "date": "2006-11-15", "value": -10.36},
      {"series": "HYCOM gridded data", "date": "2006-11-20", "value": -10.39},
      {"series": "HYCOM gridded data", "date": "2006-11-26", "value": -10.56},
      {"series": "HYCOM gridded data", "date": "2006-12-03", "value": -10.83},
      {"series": "HYCOM gridded data", "date": "2006-12-09", "value": -10.63},
      {"series": "HYCOM gridded data", "date": "2006-12-16", "value": -10.39},
      {"series": "HYCOM gridded data", "date": "2006-12-22", "value": -10.63},
      {"series": "HYCOM gridded data", "date": "2006-12-28", "value": -10.67},
      {"series": "HYCOM gridded data", "date": "2006-12-31", "value": -10.56}
    ]
  },
  "layer": [
    {
      "data": {"name": "means"},
      "mark": {"type": "rule", "strokeDash": [7, 4], "strokeWidth": 2},
      "encoding": {
        "y": {"field": "v", "type": "quantitative", "scale": {"domain": [-17, -3]}, "axis": null},
        "stroke": {"field": "c", "type": "nominal", "scale": null, "legend": null}
      }
    },
    {
      "mark": {"type": "line", "strokeWidth": 1.5, "interpolate": "linear"},
      "encoding": {
        "x": {
          "field": "date",
          "type": "temporal",
          "scale": {"type": "utc", "domain": [{"year": 2004, "month": 1, "date": 1, "utc": true}, {"year": 2007, "month": 1, "date": 1, "utc": true}]},
          "axis": {
            "title": null,
            "orient": "bottom",
            "labelExpr": "utcFormat(datum.value, '%b%y')",
            "values": [
              {"year": 2004, "month": 1, "date": 1, "utc": true},
              {"year": 2004, "month": 4, "date": 1, "utc": true},
              {"year": 2004, "month": 7, "date": 1, "utc": true},
              {"year": 2004, "month": 10, "date": 1, "utc": true},
              {"year": 2005, "month": 1, "date": 1, "utc": true},
              {"year": 2005, "month": 4, "date": 1, "utc": true},
              {"year": 2005, "month": 7, "date": 1, "utc": true},
              {"year": 2005, "month": 10, "date": 1, "utc": true},
              {"year": 2006, "month": 1, "date": 1, "utc": true},
              {"year": 2006, "month": 4, "date": 1, "utc": true},
              {"year": 2006, "month": 7, "date": 1, "utc": true},
              {"year": 2006, "month": 10, "date": 1, "utc": true},
              {"year": 2007, "month": 1, "date": 1, "utc": true}
            ],
            "grid": true,
            "tickSize": -6,
            "labelPadding": 13,
            "labelFlush": false,
            "labelOverlap": false
          }
        },
        "y": {
          "field": "value",
          "type": "quantitative",
          "scale": {"domain": [-17, -3], "nice": false, "zero": false},
          "axis": {
            "title": "Sv (1x10⁶ m³/s)",
            "orient": "left",
            "values": [-16, -14, -12, -10, -8, -6, -4],
            "labelExpr": "'' + datum.value",
            "grid": true,
            "tickSize": -6,
            "labelPadding": 10,
            "titlePadding": 5
          }
        },
        "color": {
          "field": "series",
          "type": "nominal",
          "scale": {
            "domain": ["Extrapolation of mooring site data", "Observations", "HYCOM gridded data"],
            "range": ["#ff0000", "#000000", "#0000ff"]
          },
          "legend": {
            "title": null,
            "orient": "none",
            "legendX": 9,
            "legendY": 9,
            "symbolType": "stroke",
            "symbolSize": 1000,
            "symbolStrokeWidth": 1.5,
            "labelFontSize": 10,
            "labelFontWeight": "bold",
            "labelColor": "#000000",
            "labelLimit": 400,
            "labelOffset": 5,
            "padding": 4,
            "clipHeight": 13,
            "rowPadding": 1,
            "strokeColor": "#808080",
            "fillColor": "white",
            "cornerRadius": 0
          }
        }
      }
    },
    {
      "mark": {"type": "point", "opacity": 0},
      "encoding": {
        "x": {
          "field": "date",
          "type": "temporal",
          "axis": {
            "title": null,
            "orient": "top",
            "labels": false,
            "grid": false,
            "tickSize": -6,
            "values": [
              {"year": 2004, "month": 1, "date": 1, "utc": true},
              {"year": 2004, "month": 4, "date": 1, "utc": true},
              {"year": 2004, "month": 7, "date": 1, "utc": true},
              {"year": 2004, "month": 10, "date": 1, "utc": true},
              {"year": 2005, "month": 1, "date": 1, "utc": true},
              {"year": 2005, "month": 4, "date": 1, "utc": true},
              {"year": 2005, "month": 7, "date": 1, "utc": true},
              {"year": 2005, "month": 10, "date": 1, "utc": true},
              {"year": 2006, "month": 1, "date": 1, "utc": true},
              {"year": 2006, "month": 4, "date": 1, "utc": true},
              {"year": 2006, "month": 7, "date": 1, "utc": true},
              {"year": 2006, "month": 10, "date": 1, "utc": true},
              {"year": 2007, "month": 1, "date": 1, "utc": true}
            ]
          }
        },
        "y": {
          "field": "value",
          "type": "quantitative",
          "axis": {
            "title": null,
            "orient": "right",
            "labels": false,
            "grid": false,
            "tickSize": -6,
            "values": [-16, -14, -12, -10, -8, -6, -4]
          }
        }
      }
    }
  ],
  "resolve": {"axis": {"x": "independent", "y": "independent"}}
}
